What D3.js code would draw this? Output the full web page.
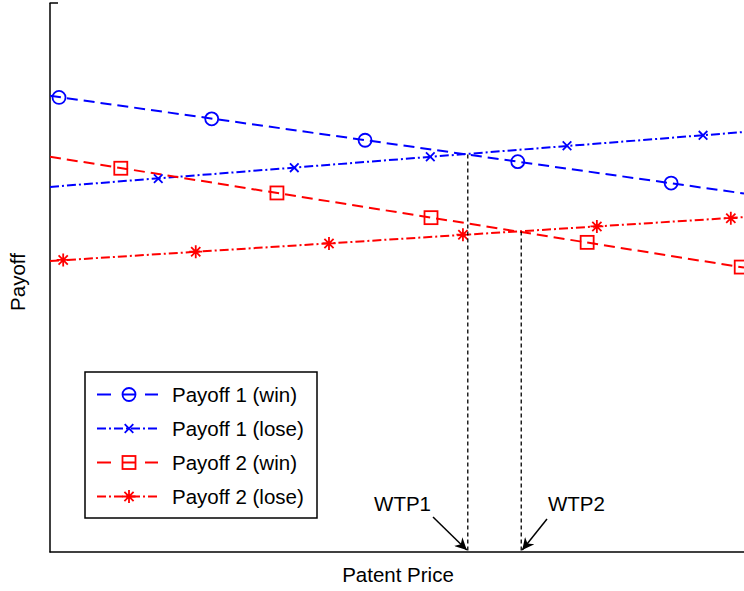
<!DOCTYPE html>
<html><head><meta charset="utf-8">
<script src="https://cdn.jsdelivr.net/npm/d3@7/dist/d3.min.js"></script>
<style>body{margin:0;background:#fff}svg{display:block}text{font-family:"Liberation Sans",Arial,sans-serif}</style>
</head><body><svg id="c" width="744" height="591"></svg>
<script>
// Data (arbitrary units; axes have no tick labels)
const seriesNames = ["Payoff 1 (win)", "Payoff 1 (lose)", "Payoff 2 (win)", "Payoff 2 (lose)"];
const lineX = [0, 10];
const lineY = [[8.31, 6.53], [6.65, 7.65], [7.20, 5.18], [5.30, 6.10]];
const markerX = [
  [0.13, 2.33, 4.54, 6.74, 8.95],
  [1.56, 3.52, 5.48, 7.45, 9.41],
  [1.02, 3.27, 5.49, 7.74, 9.96],
  [0.19, 2.10, 4.02, 5.95, 7.88, 9.81]
];
const markerY = [
  [8.28, 7.89, 7.50, 7.11, 6.72],
  [6.80, 7.00, 7.20, 7.40, 7.59],
  [6.99, 6.54, 6.09, 5.64, 5.19],
  [5.32, 5.47, 5.62, 5.78, 5.93, 6.08]
];
const wtpLabels = ["WTP1", "WTP2"];
const wtpX = [6.02, 6.79];
const wtpY = [7.24, 5.84];

const colors = ["#0000ff", "#0000ff", "#ff0000", "#ff0000"];
const dashes = ["11,6", "9,3,2,3", "11,6", "9,3,2,3"];
const markers = ["circle", "x", "square", "star"];

const svg = d3.select("#c");
const x = d3.scaleLinear().domain([0, 10]).range([50, 744]);
const y = d3.scaleLinear().domain([0, 10]).range([552, 3]);

// axes
svg.append("line").attr("x1", 50).attr("x2", 50).attr("y1", 3).attr("y2", 552.5).attr("stroke", "#000").attr("stroke-width", 1.5);
svg.append("line").attr("x1", 49.5).attr("x2", 744).attr("y1", 552).attr("y2", 552).attr("stroke", "#000").attr("stroke-width", 1.5);
svg.append("line").attr("x1", 49.5).attr("x2", 58).attr("y1", 3).attr("y2", 3).attr("stroke", "#000").attr("stroke-width", 1.5);

const clip = svg.append("defs").append("clipPath").attr("id", "pc");
clip.append("rect").attr("x", 50).attr("y", 0).attr("width", 694).attr("height", 552);

function drawMarker(g, type, cx, cy, col) {
  if (type === "circle") {
    g.append("circle").attr("cx", cx).attr("cy", cy).attr("r", 6.5).attr("fill", "none").attr("stroke", col).attr("stroke-width", 1.8);
  } else if (type === "square") {
    g.append("rect").attr("x", cx - 6.5).attr("y", cy - 6.5).attr("width", 13).attr("height", 13).attr("fill", "none").attr("stroke", col).attr("stroke-width", 1.8);
  } else if (type === "x") {
    const s = 4.3;
    g.append("path").attr("d", `M${cx - s},${cy - s}L${cx + s},${cy + s}M${cx - s},${cy + s}L${cx + s},${cy - s}`).attr("stroke", col).attr("stroke-width", 1.8);
  } else if (type === "star") {
    const s = 6.5, d = 4.6;
    g.append("path").attr("d", `M${cx},${cy - s}L${cx},${cy + s}M${cx - s},${cy}L${cx + s},${cy}M${cx - d},${cy - d}L${cx + d},${cy + d}M${cx - d},${cy + d}L${cx + d},${cy - d}`).attr("stroke", col).attr("stroke-width", 1.8);
  }
}

const plot = svg.append("g").attr("clip-path", "url(#pc)");
const lineGen = d3.line().x(d => x(d[0])).y(d => y(d[1]));
seriesNames.forEach((name, i) => {
  const pts = lineX.map((vx, j) => [vx, lineY[i][j]]);
  plot.append("path").attr("d", lineGen(pts)).attr("fill", "none").attr("stroke", colors[i]).attr("stroke-width", 2).attr("stroke-dasharray", dashes[i]);
});
seriesNames.forEach((name, i) => {
  markerX[i].forEach((mx, j) => drawMarker(svg, markers[i], x(mx), y(markerY[i][j]), colors[i]));
});

// WTP vertical lines
wtpX.forEach((wx, i) => {
  svg.append("line").attr("x1", x(wx)).attr("x2", x(wx)).attr("y1", y(wtpY[i])).attr("y2", 552)
    .attr("stroke", "#000").attr("stroke-width", 1.3).attr("stroke-dasharray", "4,3");
});

// annotations with arrows
svg.append("defs").append("marker").attr("id", "ah").attr("viewBox", "0 0 10 10").attr("refX", 10).attr("refY", 5)
  .attr("markerWidth", 17).attr("markerHeight", 12).attr("markerUnits", "userSpaceOnUse").attr("orient", "auto")
  .append("path").attr("d", "M0,0L10,5L0,10L3,5Z").attr("fill", "#000");
const arrowStart = [[433, 517], [547, 519]];
wtpX.forEach((wx, i) => {
  svg.append("line").attr("x1", arrowStart[i][0]).attr("y1", arrowStart[i][1]).attr("x2", x(wx) - (i === 0 ? 1 : -1)).attr("y2", 550)
    .attr("stroke", "#000").attr("stroke-width", 1.5).attr("marker-end", "url(#ah)");
});
svg.append("text").attr("x", 431).attr("y", 511).attr("text-anchor", "end").attr("font-size", 20.5).text(wtpLabels[0]);
svg.append("text").attr("x", 548).attr("y", 511).attr("text-anchor", "start").attr("font-size", 20.5).text(wtpLabels[1]);

// axis labels
svg.append("text").attr("x", 398).attr("y", 582).attr("text-anchor", "middle").attr("font-size", 20.5).text("Patent Price");
svg.append("text").attr("transform", "translate(25,282) rotate(-90)").attr("text-anchor", "middle").attr("font-size", 20.5).text("Payoff");

// legend
const lg = svg.append("g");
lg.append("rect").attr("x", 85).attr("y", 372).attr("width", 232).attr("height", 146).attr("fill", "#fff").attr("stroke", "#000").attr("stroke-width", 1.5);
seriesNames.forEach((name, i) => {
  const cy = 394.5 + i * 34;
  if (i % 2 === 0) {
    [[97, 111], [122, 136], [145, 158]].forEach(seg => {
      lg.append("line").attr("x1", seg[0]).attr("x2", seg[1]).attr("y1", cy).attr("y2", cy).attr("stroke", colors[i]).attr("stroke-width", 2);
    });
  } else {
    lg.append("line").attr("x1", 97).attr("x2", 158).attr("y1", cy).attr("y2", cy).attr("stroke", colors[i]).attr("stroke-width", 2)
      .attr("stroke-dasharray", "9,3,2,3");
  }
  drawMarker(lg, markers[i], 129, cy, colors[i]);
  lg.append("text").attr("x", 172).attr("y", cy + 7).attr("font-size", 20.5).text(name);
});
</script></body></html>
